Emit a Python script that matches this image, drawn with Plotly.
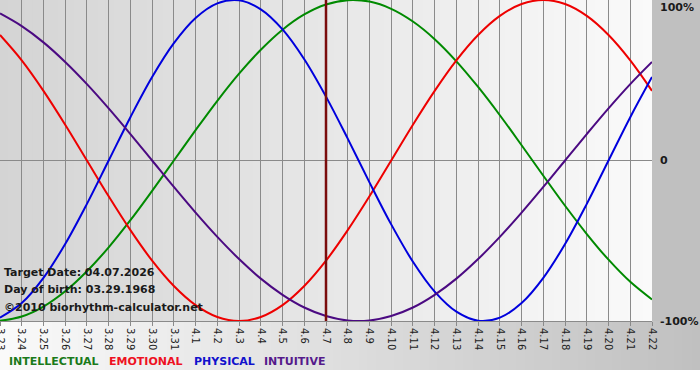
import plotly.graph_objects as go

# ---------------- data ----------------
dates = ["3.23", "3.24", "3.25", "3.26", "3.27", "3.28", "3.29", "3.30", "3.31",
         "4.1", "4.2", "4.3", "4.4", "4.5", "4.6", "4.7", "4.8", "4.9", "4.10",
         "4.11", "4.12", "4.13", "4.14", "4.15", "4.16", "4.17", "4.18", "4.19",
         "4.20", "4.21", "4.22"]

intellectual = [-0.999, -0.972, -0.910, -0.815, -0.690, -0.541, -0.372, -0.189,
                0.000, 0.189, 0.372, 0.541, 0.690, 0.815, 0.910, 0.972, 0.999,
                0.990, 0.945, 0.866, 0.756, 0.618, 0.458, 0.282, 0.095, -0.095,
                -0.282, -0.458, -0.618, -0.756, -0.866]

emotional = [0.782, 0.624, 0.434, 0.223, 0.000, -0.223, -0.434, -0.624, -0.782,
             -0.901, -0.975, -1.000, -0.975, -0.901, -0.782, -0.624, -0.434,
             -0.223, 0.000, 0.223, 0.434, 0.624, 0.782, 0.901, 0.975, 1.000,
             0.975, 0.901, 0.782, 0.624, 0.434]

physical = [-0.979, -0.888, -0.731, -0.520, -0.270, 0.000, 0.270, 0.520, 0.731,
            0.888, 0.979, 0.998, 0.942, 0.817, 0.631, 0.398, 0.136, -0.136,
            -0.398, -0.631, -0.817, -0.942, -0.998, -0.979, -0.888, -0.731,
            -0.520, -0.270, 0.000, 0.270, 0.520]

intuitive = [0.916, 0.837, 0.736, 0.614, 0.476, 0.325, 0.165, 0.000, -0.165,
             -0.325, -0.476, -0.614, -0.736, -0.837, -0.916, -0.969, -0.997,
             -0.997, -0.969, -0.916, -0.837, -0.736, -0.614, -0.476, -0.325,
             -0.165, 0.000, 0.165, 0.325, 0.476, 0.614]

target_date = "4.7"
info_lines = ["Target Date: 04.07.2026", "Day of birth: 03.29.1968",
              "\u00a92010 biorhythm-calculator.net"]
legend_names = ["INTELLECTUAL", "EMOTIONAL", "PHYSICAL", "INTUITIVE"]
y_labels = ["100%", "0", "-100%"]

# ---------------- geometry ----------------
W, H = 700, 380
L, R, T, B = 0, 48, 0, 59
PW, PH = W - L - R, H - T - B


def px(x):
    return (x - L) / PW


def py(y):
    return (H - B - y) / PH


def mix(c1, c2, t):
    return "rgb({},{},{})".format(*[round(a + (b - a) * t) for a, b in zip(c1, c2)])


fig = go.Figure()

series = [
    ("INTELLECTUAL", intellectual, "#008a00"),
    ("EMOTIONAL", emotional, "#ee0000"),
    ("PHYSICAL", physical, "#0000dd"),
    ("INTUITIVE", intuitive, "#4b0a82"),
]
for name, vals, col in series:
    fig.add_trace(go.Scatter(x=dates, y=vals, mode="lines", name=name,
                             line=dict(color=col, width=2, shape="spline", smoothing=1.0),
                             hoverinfo="skip"))

shapes = []
# plot-area gradient (left grey -> right near white)
N = 80
for i in range(N):
    x0 = i / N
    x1 = (i + 1) / N + 0.002
    shapes.append(dict(type="rect", xref="paper", yref="paper", x0=x0, x1=x1, y0=0, y1=1,
                       fillcolor=mix((212, 212, 212), (250, 250, 250), (i + 0.5) / N),
                       line=dict(width=0), layer="below"))
# right margin grey
shapes.append(dict(type="rect", xref="paper", yref="paper", x0=1, x1=px(W), y0=py(H - B + 0.5), y1=py(-1),
                   fillcolor="#c0c0c0", line=dict(width=0), layer="below"))
# bottom band gradient (left near white -> right grey)
for i in range(N):
    xa = W * i / N
    xb = W * (i + 1) / N + 1
    shapes.append(dict(type="rect", xref="paper", yref="paper", x0=px(xa), x1=px(xb),
                       y0=py(370), y1=py(H - B),
                       fillcolor=mix((250, 250, 250), (192, 192, 192), (i + 0.5) / N),
                       line=dict(width=0), layer="below"))
# target date line
ti = dates.index(target_date)
shapes.append(dict(type="line", xref="x", yref="paper", x0=ti, x1=ti, y0=0, y1=1,
                   line=dict(color="#7a0c0c", width=2.5), layer="above"))

annotations = []
info_y = [272, 289, 307]
for txt, yy in zip(info_lines, info_y):
    annotations.append(dict(text=txt, xref="paper", yref="paper", x=px(2), y=py(yy),
                            xanchor="left", yanchor="middle", showarrow=False,
                            font=dict(family="DejaVu Sans", size=11, color="#1a1a1a", weight="bold")))
legend_x = [7, 107, 192, 262]
legend_cols = ["#1a7a1a", "#ee1122", "#1111cc", "#551a8b"]
for txt, xx, col in zip(legend_names, legend_x, legend_cols):
    annotations.append(dict(text=txt, xref="paper", yref="paper", x=px(xx), y=py(362),
                            xanchor="left", yanchor="middle", showarrow=False,
                            font=dict(family="DejaVu Sans", size=11, color=col, weight="bold")))
ylab_y = [7, 161, 322]
for txt, yy in zip(y_labels, ylab_y):
    annotations.append(dict(text=txt, xref="paper", yref="paper", x=px(658), y=py(yy),
                            xanchor="left", yanchor="middle", showarrow=False,
                            font=dict(family="DejaVu Sans", size=11, color="#1a1a1a", weight="bold")))

fig.update_layout(
    width=W, height=H,
    margin=dict(l=L, r=R, t=T, b=B, pad=0),
    paper_bgcolor="#ffffff",
    plot_bgcolor="rgba(0,0,0,0)",
    showlegend=False,
    shapes=shapes,
    annotations=annotations,
    xaxis=dict(type="category", range=[0, len(dates) - 1], showgrid=True, gridcolor="#8a8a8a",
               gridwidth=1, tickangle=90, ticks="outside", ticklen=4, tickcolor="#8a8a8a",
               tickfont=dict(family="DejaVu Sans", size=10, color="#222222"),
               showline=True, linecolor="#8a8a8a", linewidth=1, automargin=False, fixedrange=True),
    yaxis=dict(range=[-1, 1], showgrid=False, zeroline=True, zerolinecolor="#8a8a8a",
               zerolinewidth=1, showticklabels=False, ticks="", automargin=False, fixedrange=True),
)

fig.write_html("out.html", config={"displayModeBar": False},
               post_script="document.body.style.margin='0';document.body.style.padding='0';")
